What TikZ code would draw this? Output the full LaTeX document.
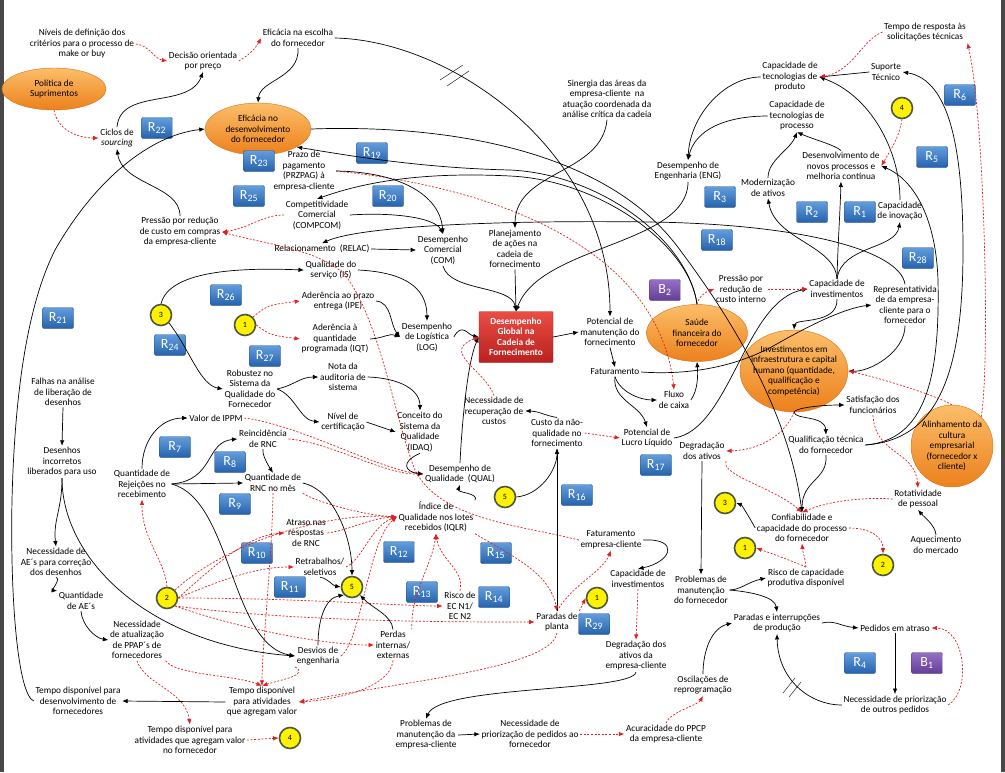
\documentclass[tikz,border=0pt]{standalone}
\usepackage{fontspec}
\setmainfont{Carlito}
\usetikzlibrary{arrows.meta,shapes.geometric}
\definecolor{negred}{RGB}{222,32,32}
\definecolor{rbtop}{RGB}{98,158,220}
\definecolor{rbbot}{RGB}{38,98,172}
\definecolor{rbedge}{RGB}{40,80,135}
\definecolor{bbtop}{RGB}{150,112,196}
\definecolor{bbbot}{RGB}{100,62,150}
\definecolor{bbedge}{RGB}{80,50,120}
\definecolor{ovtop}{RGB}{252,190,105}
\definecolor{ovbot}{RGB}{236,128,28}
\definecolor{ovedge}{RGB}{214,110,20}
\definecolor{hubtop}{RGB}{232,78,68}
\definecolor{hubbot}{RGB}{186,32,30}
\definecolor{hubedge}{RGB}{150,30,28}
\definecolor{bubedge}{RGB}{75,88,62}
\definecolor{sidegray}{RGB}{72,72,72}
\begin{document}
\begin{tikzpicture}[x=1pt,y=1pt,
  lbl/.style={align=center,inner sep=1.5pt,font=\fontsize{9.3}{10.5}\selectfont},
  plink/.style={-{Latex[length=5.5pt,width=4.5pt]},line width=0.7pt},
  nlink/.style={-{Latex[length=5.5pt,width=4.5pt]},draw=negred,dash pattern=on 2pt off 1.6pt,line width=0.7pt},
  rloop/.style={rectangle,rounded corners=1.5pt,top color=rbtop,bottom color=rbbot,draw=rbedge,text=white,minimum width=31pt,minimum height=21pt,inner sep=0pt,font=\fontsize{14}{14}\selectfont},
  bloop/.style={rloop,top color=bbtop,bottom color=bbbot,draw=bbedge},
  oval/.style={ellipse,top color=ovtop,bottom color=ovbot,draw=ovedge,inner sep=0pt},
  bubble/.style={circle,fill=yellow,draw=bubedge,line width=1.6pt,minimum size=21pt,inner sep=0pt,font=\fontsize{8}{8}\selectfont},
  hub/.style={rectangle,rounded corners=1pt,top color=hubtop,bottom color=hubbot,draw=hubedge,text=white,align=center,minimum width=74pt,minimum height=51pt,inner sep=1pt,font=\fontsize{9.3}{10.5}\selectfont\bfseries}]
\useasboundingbox (0,0) rectangle (1005,-772);
\fill[sidegray] (0,0) rectangle (4,-772);
\fill[sidegray] (1001,0) rectangle (1005,-772);

% ellipses and hub
\node[oval,minimum width=104pt,minimum height=42pt] (politica) at (54,-89) {};
\node[lbl] (politicat) at (politica) {Política de\\Suprimentos};
\node[oval,minimum width=106pt,minimum height=52pt] (eficdev) at (258,-129) {};
\node[lbl] (eficdevt) at (eficdev) {Eficácia no\\desenvolvimento\\do fornecedor};
\node[oval,minimum width=101pt,minimum height=57pt] (saude) at (697,-333) {};
\node[lbl] (saudet) at (saude) {Saúde\\financeira do\\fornecedor};
\node[oval,minimum width=108pt,minimum height=82pt] (invest) at (794,-371) {};
\node[lbl] (investt) at (invest) {Investimentos em\\infraestrutura e capital\\humano (quantidade,\\qualificação e\\competência)};
\node[oval,minimum width=82pt,minimum height=82pt] (alinh) at (952,-446) {};
\node[lbl] (alinht) at (alinh) {Alinhamento da\\cultura\\empresarial\\(fornecedor x\\cliente)};
\node[hub] (glob) at (516,-337) {Desempenho\\Global na\\Cadeia de\\Fornecimento};

% loop boxes
\node[rloop] (r1) at (860,-212) {R\textsubscript{1}};
\node[rloop] (r2) at (812,-212) {R\textsubscript{2}};
\node[rloop] (r3) at (720,-197) {R\textsubscript{3}};
\node[rloop] (r4) at (860,-663) {R\textsubscript{4}};
\node[rloop] (r5) at (932,-157) {R\textsubscript{5}};
\node[rloop] (r6) at (960,-95) {R\textsubscript{6}};
\node[rloop] (r7) at (175,-447) {R\textsubscript{7}};
\node[rloop] (r8) at (230,-462) {R\textsubscript{8}};
\node[rloop] (r9) at (235,-504) {R\textsubscript{9}};
\node[rloop] (r10) at (257,-553) {R\textsubscript{10}};
\node[rloop] (r11) at (290,-587) {R\textsubscript{11}};
\node[rloop] (r12) at (399,-552) {R\textsubscript{12}};
\node[rloop] (r13) at (422,-592) {R\textsubscript{13}};
\node[rloop] (r14) at (494,-597) {R\textsubscript{14}};
\node[rloop] (r15) at (496,-553) {R\textsubscript{15}};
\node[rloop] (r16) at (577,-495) {R\textsubscript{16}};
\node[rloop] (r17) at (656,-465) {R\textsubscript{17}};
\node[rloop] (r18) at (717,-240) {R\textsubscript{18}};
\node[rloop] (r19) at (372,-153) {R\textsubscript{19}};
\node[rloop] (r20) at (388,-196) {R\textsubscript{20}};
\node[rloop] (r21) at (58,-318) {R\textsubscript{21}};
\node[rloop] (r22) at (157,-128) {R\textsubscript{22}};
\node[rloop] (r23) at (259,-161) {R\textsubscript{23}};
\node[rloop] (r24) at (170,-345) {R\textsubscript{24}};
\node[rloop] (r25) at (249,-196) {R\textsubscript{25}};
\node[rloop] (r26) at (226,-295) {R\textsubscript{26}};
\node[rloop] (r27) at (265,-356) {R\textsubscript{27}};
\node[rloop] (r28) at (918,-258) {R\textsubscript{28}};
\node[rloop] (r29) at (594,-624) {R\textsubscript{29}};
\node[bloop] (b1) at (927,-663) {B\textsubscript{1}};
\node[bloop] (b2) at (665,-290) {B\textsubscript{2}};

% connector bubbles
\node[bubble] (bub1a) at (245,-325) {1};
\node[bubble] (bub1b) at (597,-598) {1};
\node[bubble] (bub1c) at (745,-548) {1};
\node[bubble] (bub2a) at (167,-598) {2};
\node[bubble] (bub2b) at (883,-565) {2};
\node[bubble] (bub3a) at (161,-315) {3};
\node[bubble] (bub3b) at (725,-503) {3};
\node[bubble] (bub4a) at (902,-108) {4};
\node[bubble] (bub4b) at (290,-738) {4};
\node[bubble] (bub5a) at (352,-587) {5};
\node[bubble] (bub5b) at (505,-497) {5};

% variables
\node[lbl] (niveis) at (82,-44) {Níveis de definição dos\\critérios para o processo de\\make or buy};
\node[lbl] (decisao) at (203,-61) {Decisão orientada\\por preço};
\node[lbl] (ciclos) at (117,-138) {Ciclos de\\\textit{sourcing}};
\node[lbl] (eficesc) at (298,-38) {Eficácia na escolha\\do fornecedor};
\node[lbl] (prazo) at (304,-171) {Prazo de\\pagamento\\(PRZPAG) à\\empresa-cliente};
\node[lbl] (compcom) at (317,-215) {Competitividade\\Comercial\\(COMPCOM)};
\node[lbl] (pressao) at (180,-232) {Pressão por redução\\de custo em compras\\da empresa-cliente};
\node[lbl] (relac) at (322,-249) {Relacionamento~ (RELAC)};
\node[lbl] (despcom) at (443,-250) {Desempenho\\Comercial\\(COM)};
\node[lbl] (sinergia) at (607,-99) {Sinergia das áreas da\\empresa-cliente~ na\\atuação coordenada da\\análise crítica da cadeia};
\node[lbl] (planej) at (515,-249) {Planejamento\\de ações na\\cadeia de\\fornecimento};
\node[lbl] (eng) at (688,-171) {Desempenho de\\Engenharia (ENG)};
\node[lbl] (modern) at (768,-188) {Modernização\\de ativos};
\node[lbl] (capprod) at (790,-77) {Capacidade de\\tecnologias de\\produto};
\node[lbl] (capproc) at (797,-116) {Capacidade de\\tecnologias de\\processo};
\node[lbl] (suporte) at (886,-72) {Suporte\\Técnico};
\node[lbl] (temporesp) at (925,-32) {Tempo de resposta às\\solicitações técnicas};
\node[lbl] (desenv) at (841,-166) {Desenvolvimento de\\novos processos e\\melhoria contínua};
\node[lbl] (capinov) at (900,-211) {Capacidade\\de inovação};
\node[lbl] (qualserv) at (331,-270) {Qualidade do\\serviço (IS)};
\node[lbl] (ipe) at (338,-301) {Aderência ao prazo\\entrega (IPE)};
\node[lbl] (iqt) at (335,-339) {Aderência à\\quantidade\\programada (IQT)};
\node[lbl] (logi) at (427,-337) {Desempenho\\de Logística\\(LOG)};
\node[lbl] (robustez) at (250,-389) {Robustez no\\Sistema da\\Qualidade do\\Fornecedor};
\node[lbl] (nota) at (343,-377) {Nota da\\auditoria de\\sistema};
\node[lbl] (nivel) at (343,-422) {Nível de\\certificação};
\node[lbl] (idaq) at (420,-432) {Conceito do\\Sistema da\\Qualidade\\(IDAQ)};
\node[lbl] (qual) at (460,-474) {Desempenho de\\Qualidade~ (QUAL)};
\node[lbl] (iqlr) at (436,-517) {Índice de\\Qualidade nos lotes\\recebidos (IQLR)};
\node[lbl] (ippm) at (216,-418) {Valor de IPPM};
\node[lbl] (reinc) at (263,-439) {Reincidência\\de RNC};
\node[lbl] (qtdrnc) at (273,-483) {Quantidade de\\RNC no mês};
\node[lbl] (qtdrej) at (142,-484) {Quantidade de\\Rejeições no\\recebimento};
\node[lbl] (falhas) at (63,-392) {Falhas na análise\\de liberação de\\desenhos};
\node[lbl] (desenhos) at (62,-462) {Desenhos\\incorretos\\liberados para uso};
\node[lbl] (necae) at (56,-562) {Necessidade de\\AE´s para correção\\dos desenhos};
\node[lbl] (qtdae) at (81,-601) {Quantidade\\de AE´s};
\node[lbl] (ppap) at (137,-640) {Necessidade\\de atualização\\de PPAP´s de\\fornecedores};
\node[lbl] (tdesenv) at (78,-701) {Tempo disponível para\\desenvolvimento de\\fornecedores};
\node[lbl] (tativ) at (262,-702) {Tempo disponível\\para atividades\\que agregam valor};
\node[lbl] (tforn) at (190,-740) {Tempo disponível para\\atividades que agregam valor\\no fornecedor};
\node[lbl] (atraso) at (306,-533) {Atraso nas\\respostas\\de RNC};
\node[lbl] (retrab) at (320,-567) {Retrabalhos/\\seletivos};
\node[lbl] (desvios) at (318,-656) {Desvios de\\engenharia};
\node[lbl] (perdas) at (393,-645) {Perdas\\internas/\\externas};
\node[lbl] (riscoec) at (460,-606) {Risco de\\EC N1/\\EC N2};
\node[lbl] (probcli) at (426,-735) {Problemas de\\manutenção da\\empresa-cliente};
\node[lbl] (priorforn) at (530,-734) {Necessidade de\\priorização de pedidos ao\\fornecedor};
\node[lbl] (acur) at (666,-734) {Acuracidade do PPCP\\da empresa-cliente};
\node[lbl] (oscil) at (703,-685) {Oscilações de\\reprogramação};
\node[lbl] (degrcli) at (636,-656) {Degradação dos\\ativos da\\empresa-cliente};
\node[lbl] (paradas) at (557,-622) {Paradas de\\planta};
\node[lbl] (fatcli) at (611,-540) {Faturamento\\empresa-cliente};
\node[lbl] (capinvcli) at (638,-579) {Capacidade de\\investimentos};
\node[lbl] (probforn) at (701,-590) {Problemas de\\manutenção\\do fornecedor};
\node[lbl] (parprod) at (777,-623) {Paradas e interrupções\\de produção};
\node[lbl] (pedatraso) at (895,-628) {Pedidos em atraso};
\node[lbl] (priorout) at (895,-705) {Necessidade de priorização\\de outros pedidos};
\node[lbl] (aquec) at (936,-545) {Aquecimento\\do mercado};
\node[lbl] (confiab) at (802,-528) {Confiabilidade e\\capacidade do processo\\do fornecedor};
\node[lbl] (riscocap) at (806,-578) {Risco de capacidade\\produtiva disponível};
\node[lbl] (rotat) at (918,-499) {Rotatividade\\de pessoal};
\node[lbl] (qualif) at (826,-445) {Qualificação técnica\\do fornecedor};
\node[lbl] (satisf) at (873,-405) {Satisfação dos\\funcionários};
\node[lbl] (repres) at (905,-305) {Representativida\\de da empresa-\\cliente para o\\fornecedor};
\node[lbl] (capinv) at (837,-289) {Capacidade de\\investimentos};
\node[lbl] (pressaoint) at (741,-289) {Pressão por\\redução de\\custo interno};
\node[lbl] (fat) at (615,-372) {Faturamento};
\node[lbl] (fluxo) at (674,-400) {Fluxo\\de caixa};
\node[lbl] (lucro) at (647,-438) {Potencial de\\Lucro Líquido};
\node[lbl] (degr) at (702,-451) {Degradação\\dos ativos};
\node[lbl] (custonq) at (557,-433) {Custo da não-\\qualidade no\\fornecimento};
\node[lbl] (necrec) at (494,-411) {Necessidade de\\recuperação de\\custos};
\node[lbl] (potmanut) at (610,-332) {Potencial de\\manutenção do\\fornecimento};

% links, upper left
\draw[nlink] (niveis.east) to[out=-5,in=170] (decisao.west);
\draw[nlink] (decisao.east) to[out=30,in=-120] (eficesc.west);
\draw[nlink] (politica.south) to[out=-80,in=180] (ciclos.west);
\draw[plink] (ciclos.north) to[out=85,in=-110] (decisao.south);
\draw[plink] (pressao.north) .. controls (180,-185) and (122,-185) .. (ciclos.south);
\draw[plink] (tdesenv.west) .. controls (18,-695) and (10,-600) .. (12,-500) .. controls (15,-380) and (30,-300) .. (55,-250) .. controls (95,-180) and (150,-135) .. (eficdev.west);
\draw[plink] (eficesc.south) .. controls (300,-78) and (260,-80) .. (eficdev.north);
\draw[plink] (eficesc.east) .. controls (450,-40) and (610,-150) .. (potmanut.north);
\draw (440,-80) -- (463,-65) (447,-86) -- (469,-71);
\draw[nlink] (compcom.west) .. controls (262,-215) and (250,-228) .. (pressao.east);
\draw[nlink] (fatcli.west) .. controls (520,-525) and (440,-520) .. (415,-470) .. controls (395,-420) and (380,-320) .. (345,-275) .. controls (320,-250) and (270,-245) .. (pressao.east);
\draw[nlink] (prazo.east) .. controls (520,-190) and (660,-260) .. (fluxo.north);
\draw[plink] (prazo.east) .. controls (400,-172) and (440,-195) .. (despcom.north);
\draw[plink] (compcom.east) .. controls (395,-212) and (435,-218) .. (despcom.north);
\draw[plink] (relac.east) -- (despcom.west);
\draw[plink] (repres.north) .. controls (900,-250) and (800,-224) .. (650,-222) .. controls (500,-220) and (360,-226) .. (relac.north);
\draw[plink] (saude.north) .. controls (690,-245) and (600,-180) .. (510,-176) .. controls (430,-172) and (370,-180) .. (compcom.north);
\draw[plink] (saude.north) .. controls (688,-240) and (600,-174) .. (510,-170) .. controls (420,-168) and (345,-155) .. (eficdev.-25);
\draw[plink] (eficdev.east) .. controls (420,-125) and (600,-140) .. (680,-250) .. controls (740,-330) and (790,-420) .. (confiab.north);

% links, upper right
\draw[plink] (sinergia.south) .. controls (602,-175) and (515,-170) .. (planej.north);
\draw[plink] (capprod.west) .. controls (725,-77) and (690,-115) .. (eng.north);
\draw[plink] (capproc.west) .. controls (725,-116) and (695,-130) .. (eng.north);
\draw[plink] (eng.south) .. controls (688,-245) and (540,-245) .. (glob.north);
\draw[plink] (despcom.south) .. controls (450,-292) and (512,-285) .. (glob.north);
\draw[plink] (planej.south) -- (glob.north);
\draw[plink] (capinv.south) .. controls (838,-325) and (795,-318) .. (invest.north);
\draw[plink] (capinv.north) .. controls (835,-245) and (775,-240) .. (modern.south);
\draw[plink] (capinv.north) .. controls (838,-240) and (840,-215) .. (desenv.south);
\draw[plink] (capinv.north) .. controls (842,-245) and (895,-250) .. (capinov.south);
\draw[plink] (modern.north) .. controls (768,-160) and (790,-150) .. (capproc.south);
\draw[plink] (desenv.north) .. controls (835,-145) and (815,-140) .. (capproc.south);
\draw[plink] (capinov.north) .. controls (900,-150) and (870,-95) .. (capprod.east);
\draw[plink] (suporte.west) -- (capprod.east);
\draw[nlink] (temporesp.west) .. controls (862,-40) and (852,-72) .. (capprod.east);
\draw[nlink] (bub4a.south) to[out=-100,in=60] (desenv.east);
\draw[plink] (qualif.east) .. controls (925,-440) and (940,-380) .. (938,-280) .. controls (936,-220) and (915,-180) .. (desenv.east);
\draw[plink] (qualif.east) .. controls (935,-440) and (963,-380) .. (963,-250) .. controls (963,-150) and (950,-80) .. (suporte.east);
\draw[plink] (repres.south) .. controls (905,-352) and (870,-372) .. (invest.east);
\draw[nlink] (alinh.north) .. controls (935,-395) and (880,-378) .. (invest.east);
\draw[nlink] (alinh.north east) .. controls (990,-370) and (985,-120) .. (temporesp.south east);

% links, middle
\draw[plink] (qualserv.east) .. controls (400,-272) and (427,-285) .. (logi.north);
\draw[plink] (ipe.east) .. controls (392,-302) and (390,-325) .. (logi.west);
\draw[plink] (iqt.east) .. controls (385,-338) and (388,-333) .. (logi.west);
\draw[plink] (logi.east) .. controls (462,-322) and (468,-335) .. (glob.west);
\draw[plink] (qual.north) .. controls (462,-420) and (468,-360) .. (glob.west);
\draw[nlink] (necrec.north) .. controls (485,-370) and (440,-352) .. (glob.west);
\draw[plink] (glob.east) -- (potmanut.west);
\draw[plink] (potmanut.south) -- (fat.north);
\draw[plink] (fat.south) .. controls (620,-392) and (640,-400) .. (fluxo.west);
\draw[plink] (fat.south) .. controls (612,-400) and (640,-405) .. (lucro.north);
\draw[plink] (fluxo.east) .. controls (698,-390) and (698,-375) .. (saude.south);
\draw[plink] (fat.east) .. controls (700,-376) and (745,-362) .. (775,-345) .. controls (810,-325) and (845,-308) .. (repres.west);
\draw[plink] (lucro.east) .. controls (730,-430) and (745,-300) .. (capinv.west);
\draw[nlink] (pressaoint.east) -- (capinv.west);
\draw[nlink] (saude.north) to[out=75,in=-160] (pressaoint.west);
\draw[plink] (invest.south) .. controls (795,-408) and (820,-405) .. (satisf.west);
\draw[plink] (invest.south) .. controls (795,-420) and (825,-415) .. (qualif.north);
\draw[nlink] (invest.south) .. controls (785,-435) and (760,-450) .. (degr.east);
\draw[plink] (qualif.south) .. controls (828,-480) and (802,-480) .. (confiab.north);
\draw[nlink] (satisf.south) .. controls (875,-455) and (915,-450) .. (rotat.north);
\draw[nlink] (rotat.west) .. controls (870,-497) and (830,-500) .. (confiab.north);
\draw[nlink] (degr.south east) .. controls (720,-475) and (775,-488) .. (confiab.north);
\draw[plink] (aquec.north) .. controls (935,-525) and (925,-518) .. (rotat.south);
\draw[nlink] (confiab.east) .. controls (872,-528) and (883,-538) .. (bub2b.north);
\draw[plink] (confiab.west) .. controls (752,-522) and (742,-505) .. (bub3b.east);
\draw[nlink] (riscocap.north) to[out=95,in=-85] (confiab.south);
\draw[nlink] (riscocap.north) .. controls (790,-560) and (770,-553) .. (bub1c.east);

% links, lower right
\draw[plink] (degr.south) -- (probforn.north);
\draw[plink] (probforn.east) .. controls (740,-590) and (748,-582) .. (riscocap.west);
\draw[plink] (probforn.east) .. controls (752,-592) and (775,-597) .. (parprod.north);
\draw[plink] (oscil.north) .. controls (703,-650) and (712,-628) .. (parprod.west);
\draw[plink] (parprod.east) .. controls (835,-620) and (840,-626) .. (pedatraso.west);
\draw[plink] (pedatraso.south) -- (priorout.north);
\draw[nlink] (priorout.east) .. controls (972,-690) and (965,-628) .. (pedatraso.east);
\draw[plink] (priorout.west) .. controls (810,-705) and (778,-680) .. (parprod.south);
\draw (783,-693) -- (795,-678) (789,-697) -- (801,-682);
\draw[nlink] (acur.north) .. controls (670,-712) and (698,-705) .. (oscil.south);
\draw[nlink] (priorforn.east) -- (acur.west);
\draw[plink] (probcli.east) -- (priorforn.west);
\draw[plink] (degrcli.south) .. controls (632,-692) and (440,-685) .. (probcli.north);
\draw[nlink] (capinvcli.south) -- (degrcli.north);
\draw[plink] (fatcli.east) .. controls (680,-538) and (672,-562) .. (capinvcli.north);
\draw[nlink] (paradas.north) .. controls (572,-585) and (602,-572) .. (fatcli.south);
\draw[nlink] (paradas.north east) -- (bub1b.west);
\draw[plink] (paradas.north) -- (custonq.south);
\draw[plink] (bub5b.east) .. controls (540,-495) and (557,-470) .. (custonq.south);
\draw[plink] (custonq.north) to[out=170,in=0] (necrec.east);
\draw[nlink] (custonq.east) -- (lucro.west);
\draw[nlink] (paradas.south) .. controls (552,-668) and (400,-682) .. (tativ.east);

% links, lower left
\draw[nlink] (perdas.south) .. controls (390,-690) and (330,-700) .. (tativ.east);
\draw[nlink] (iqlr.south east) .. controls (520,-560) and (550,-575) .. (paradas.north);
\draw[nlink] (riscoec.north) .. controls (465,-570) and (440,-560) .. (iqlr.south);
\draw[nlink] (perdas.north east) .. controls (410,-595) and (432,-565) .. (iqlr.south);
\draw[nlink] (qtdrnc.south east) .. controls (312,-500) and (360,-515) .. (iqlr.west);
\draw[nlink] (atraso.east) .. controls (350,-530) and (370,-518) .. (iqlr.west);
\draw[nlink] (retrab.east) .. controls (362,-560) and (372,-525) .. (iqlr.west);
\draw[nlink] (desvios.east) .. controls (362,-640) and (368,-540) .. (iqlr.west);
\draw[nlink] (bub2a.north east) .. controls (230,-540) and (330,-512) .. (iqlr.west);
\draw[nlink] (bub2a.east) .. controls (220,-560) and (250,-535) .. (atraso.west);
\draw[nlink] (bub2a.east) .. controls (232,-575) and (262,-567) .. (retrab.west);
\draw[nlink] (bub2a.east) .. controls (300,-598) and (400,-606) .. (riscoec.west);
\draw[nlink] (bub2a.south east) .. controls (300,-622) and (450,-622) .. (paradas.west);
\draw[nlink] (bub2a.south east) .. controls (250,-632) and (330,-645) .. (perdas.west);
\draw[nlink] (bub2a.north) .. controls (165,-560) and (142,-540) .. (qtdrej.south);
\draw[nlink] (ppap.south east) .. controls (175,-675) and (235,-675) .. (tativ.north);
\draw[nlink] (ppap.south) .. controls (145,-685) and (185,-690) .. (tforn.north);
\draw[plink] (tativ.west) -- (tdesenv.east);
\draw[nlink] (tforn.east) -- (bub4b.west);
\draw[nlink] (qtdrnc.south) .. controls (272,-560) and (262,-650) .. (tativ.north);
\draw[nlink] (desvios.south west) .. controls (310,-675) and (280,-680) .. (tativ.north);
\draw[plink] (retrab.south) to[out=-10,in=170] (bub5a.west);
\draw[plink] (desvios.north) .. controls (318,-620) and (325,-598) .. (bub5a.south west);
\draw[plink] (perdas.north) .. controls (392,-615) and (372,-608) .. (bub5a.south east);
\draw[plink] (qtdrnc.east) .. controls (335,-490) and (352,-540) .. (bub5a.north);
\draw[plink] (reinc.south) .. controls (262,-455) and (268,-465) .. (qtdrnc.north);
\draw[plink] (qtdrej.north) .. controls (142,-440) and (160,-418) .. (ippm.west);
\draw[plink] (qtdrej.east) .. controls (215,-480) and (205,-442) .. (reinc.west);
\draw[plink] (qtdrej.east) -- (qtdrnc.west);
\draw[plink] (qtdrej.east) .. controls (232,-500) and (230,-645) .. (desvios.west);
\draw[plink] (desenhos.south) .. controls (62,-560) and (150,-645) .. (desvios.west);
\draw[plink] (desenhos.south) .. controls (62,-510) and (53,-520) .. (necae.north);
\draw[plink] (falhas.south) -- (desenhos.north);
\draw[plink] (necae.south) to[out=-10,in=175] (qtdae.north west);
\draw[plink] (qtdae.south) .. controls (82,-625) and (95,-638) .. (ppap.west);
\draw[nlink] (ippm.east) .. controls (300,-425) and (380,-470) .. (qual.west);
\draw[nlink] (reinc.east) .. controls (330,-442) and (385,-475) .. (qual.west);
\draw[plink] (idaq.south) .. controls (400,-462) and (405,-472) .. (qual.west);
\draw[plink] (iqlr.north east) to[out=60,in=-110] (qual.south);
\draw[plink] (robustez.east) .. controls (295,-385) and (300,-377) .. (nota.west);
\draw[plink] (robustez.east) .. controls (295,-395) and (300,-420) .. (nivel.west);
\draw[plink] (nota.east) .. controls (400,-378) and (420,-390) .. (idaq.north);
\draw[plink] (nivel.east) -- (idaq.west);
\draw[plink] (bub3a.south east) .. controls (190,-350) and (200,-385) .. (robustez.west);
\draw[plink] (bub3a.north) .. controls (170,-268) and (250,-268) .. (qualserv.west);
\draw[nlink] (bub1a.north east) .. controls (268,-305) .. (ipe.west);
\draw[nlink] (bub1a.east) .. controls (270,-335) .. (iqt.west);
\end{tikzpicture}
\end{document}
